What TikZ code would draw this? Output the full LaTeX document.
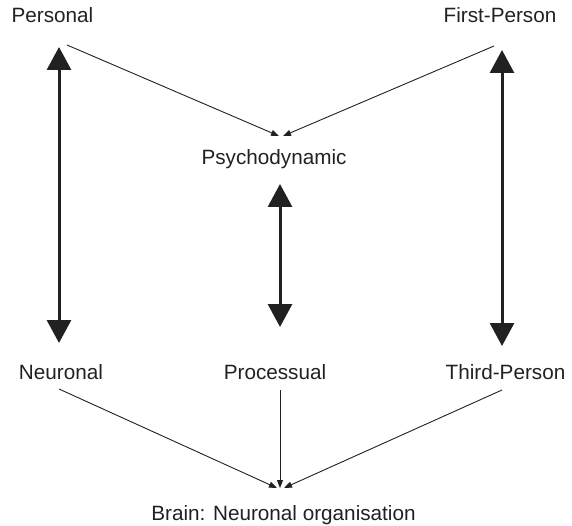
\documentclass[tikz,border=0pt]{standalone}
\usepackage{fontspec}
\setmainfont{Liberation Sans}
\usetikzlibrary{arrows.meta}
\begin{document}
\begin{tikzpicture}[x=1pt,y=-1pt,
  lbl/.style={anchor=base,inner sep=0pt,font=\fontsize{20.7}{24}\selectfont,text=black!87},
  thin/.style={line width=0.9pt,draw=black!87,-{Triangle[length=8pt,width=6pt]}},
  thick/.style={line width=3pt,draw=black!87,{Triangle[length=23pt,width=24pt]}-{Triangle[length=23pt,width=24pt]}}]
\useasboundingbox (0,0) rectangle (572,526);
% labels
\node[lbl] (per) at (52.5,23) {Personal};
\node[lbl] (fst) at (500,23) {First-Person};
\node[lbl] (psy) at (274,165) {Psychodynamic};
\node[lbl] (neu) at (61,379) {Neuronal};
\node[lbl] (pro) at (275,379) {Processual};
\node[lbl] (thd) at (505.5,379) {Third-Person};
\node[lbl] (brn) at (283.5,520) {Brain: Neuronal organisation};
% end points of the connectors
\coordinate (perOut) at (67,45);
\coordinate (fstOut) at (494,46);
\coordinate (psyInL) at (279,136);
\coordinate (psyInR) at (283,136);
\coordinate (neuOut) at (59,389);
\coordinate (proOut) at (280,390);
\coordinate (thdOut) at (502,390);
\coordinate (brnInL) at (277,488);
\coordinate (brnInM) at (280,488);
\coordinate (brnInR) at (284,488);
\coordinate (perTop) at (59,47);
\coordinate (neuTop) at (59,343);
\coordinate (fstTop) at (502,50);
\coordinate (thdTop) at (502,346);
\coordinate (psyBot) at (280,184);
\coordinate (proTop) at (280,327);
% thin converging arrows
\draw[thin] (perOut) -- (psyInL);
\draw[thin] (fstOut) -- (psyInR);
\draw[thin] (neuOut) -- (brnInL);
\draw[thin] (proOut) -- (brnInM);
\draw[thin] (thdOut) -- (brnInR);
% thick double-headed arrows
\draw[thick] (perTop) -- (neuTop);
\draw[thick] (fstTop) -- (thdTop);
\draw[thick] (psyBot) -- (proTop);
\end{tikzpicture}
\end{document}
